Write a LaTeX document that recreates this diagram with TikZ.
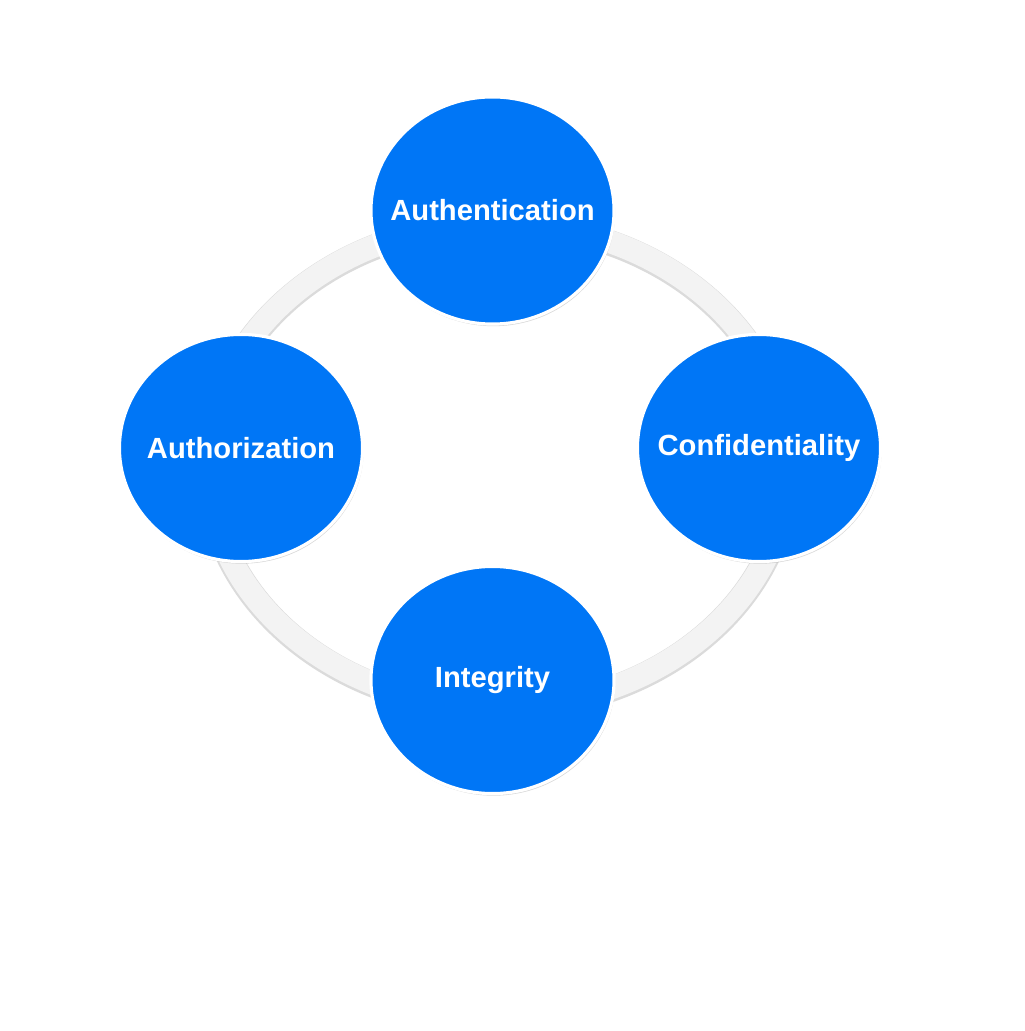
\documentclass[tikz,border=0pt]{standalone}
\usepackage{fontspec}
\setmainfont{Liberation Sans}
\usetikzlibrary{shapes.geometric,shadows}
\definecolor{pillarblue}{RGB}{0,118,246}
\definecolor{ringgray}{RGB}{243,243,243}

\begin{document}
\begin{tikzpicture}[x=0.01cm,y=-0.01cm,
    pillar/.style={ellipse,draw=white,line width=0.9pt,fill=pillarblue,
        minimum width=2.43cm,minimum height=2.27cm,inner sep=0pt,
        drop shadow={opacity=0.3,shadow xshift=0.3pt,shadow yshift=-0.6pt}},
    pillartext/.style={text=white,font=\bfseries\fontsize{8.3}{10}\selectfont}]
\useasboundingbox (0,0) rectangle (1024,1031);
% ring behind the circles
\draw [gray!28,line width=7.3pt] (498,466.2) ellipse [x radius=290,y radius=-242];
\draw [ringgray,line width=6.5pt] (498,465) ellipse [x radius=290,y radius=-242];
\node [pillar,label={[pillartext]center:Authentication}] (auth) at (492.5,210.5) {};
\node [pillar,label={[pillartext]center:Confidentiality}] (conf) at (759,448) {};
\node [pillar,label={[pillartext]center:Integrity}] (integ) at (492.5,680) {};
\node [pillar,label={[pillartext]center:Authorization}] (authz) at (241,448) {};
\end{tikzpicture}
\end{document}
